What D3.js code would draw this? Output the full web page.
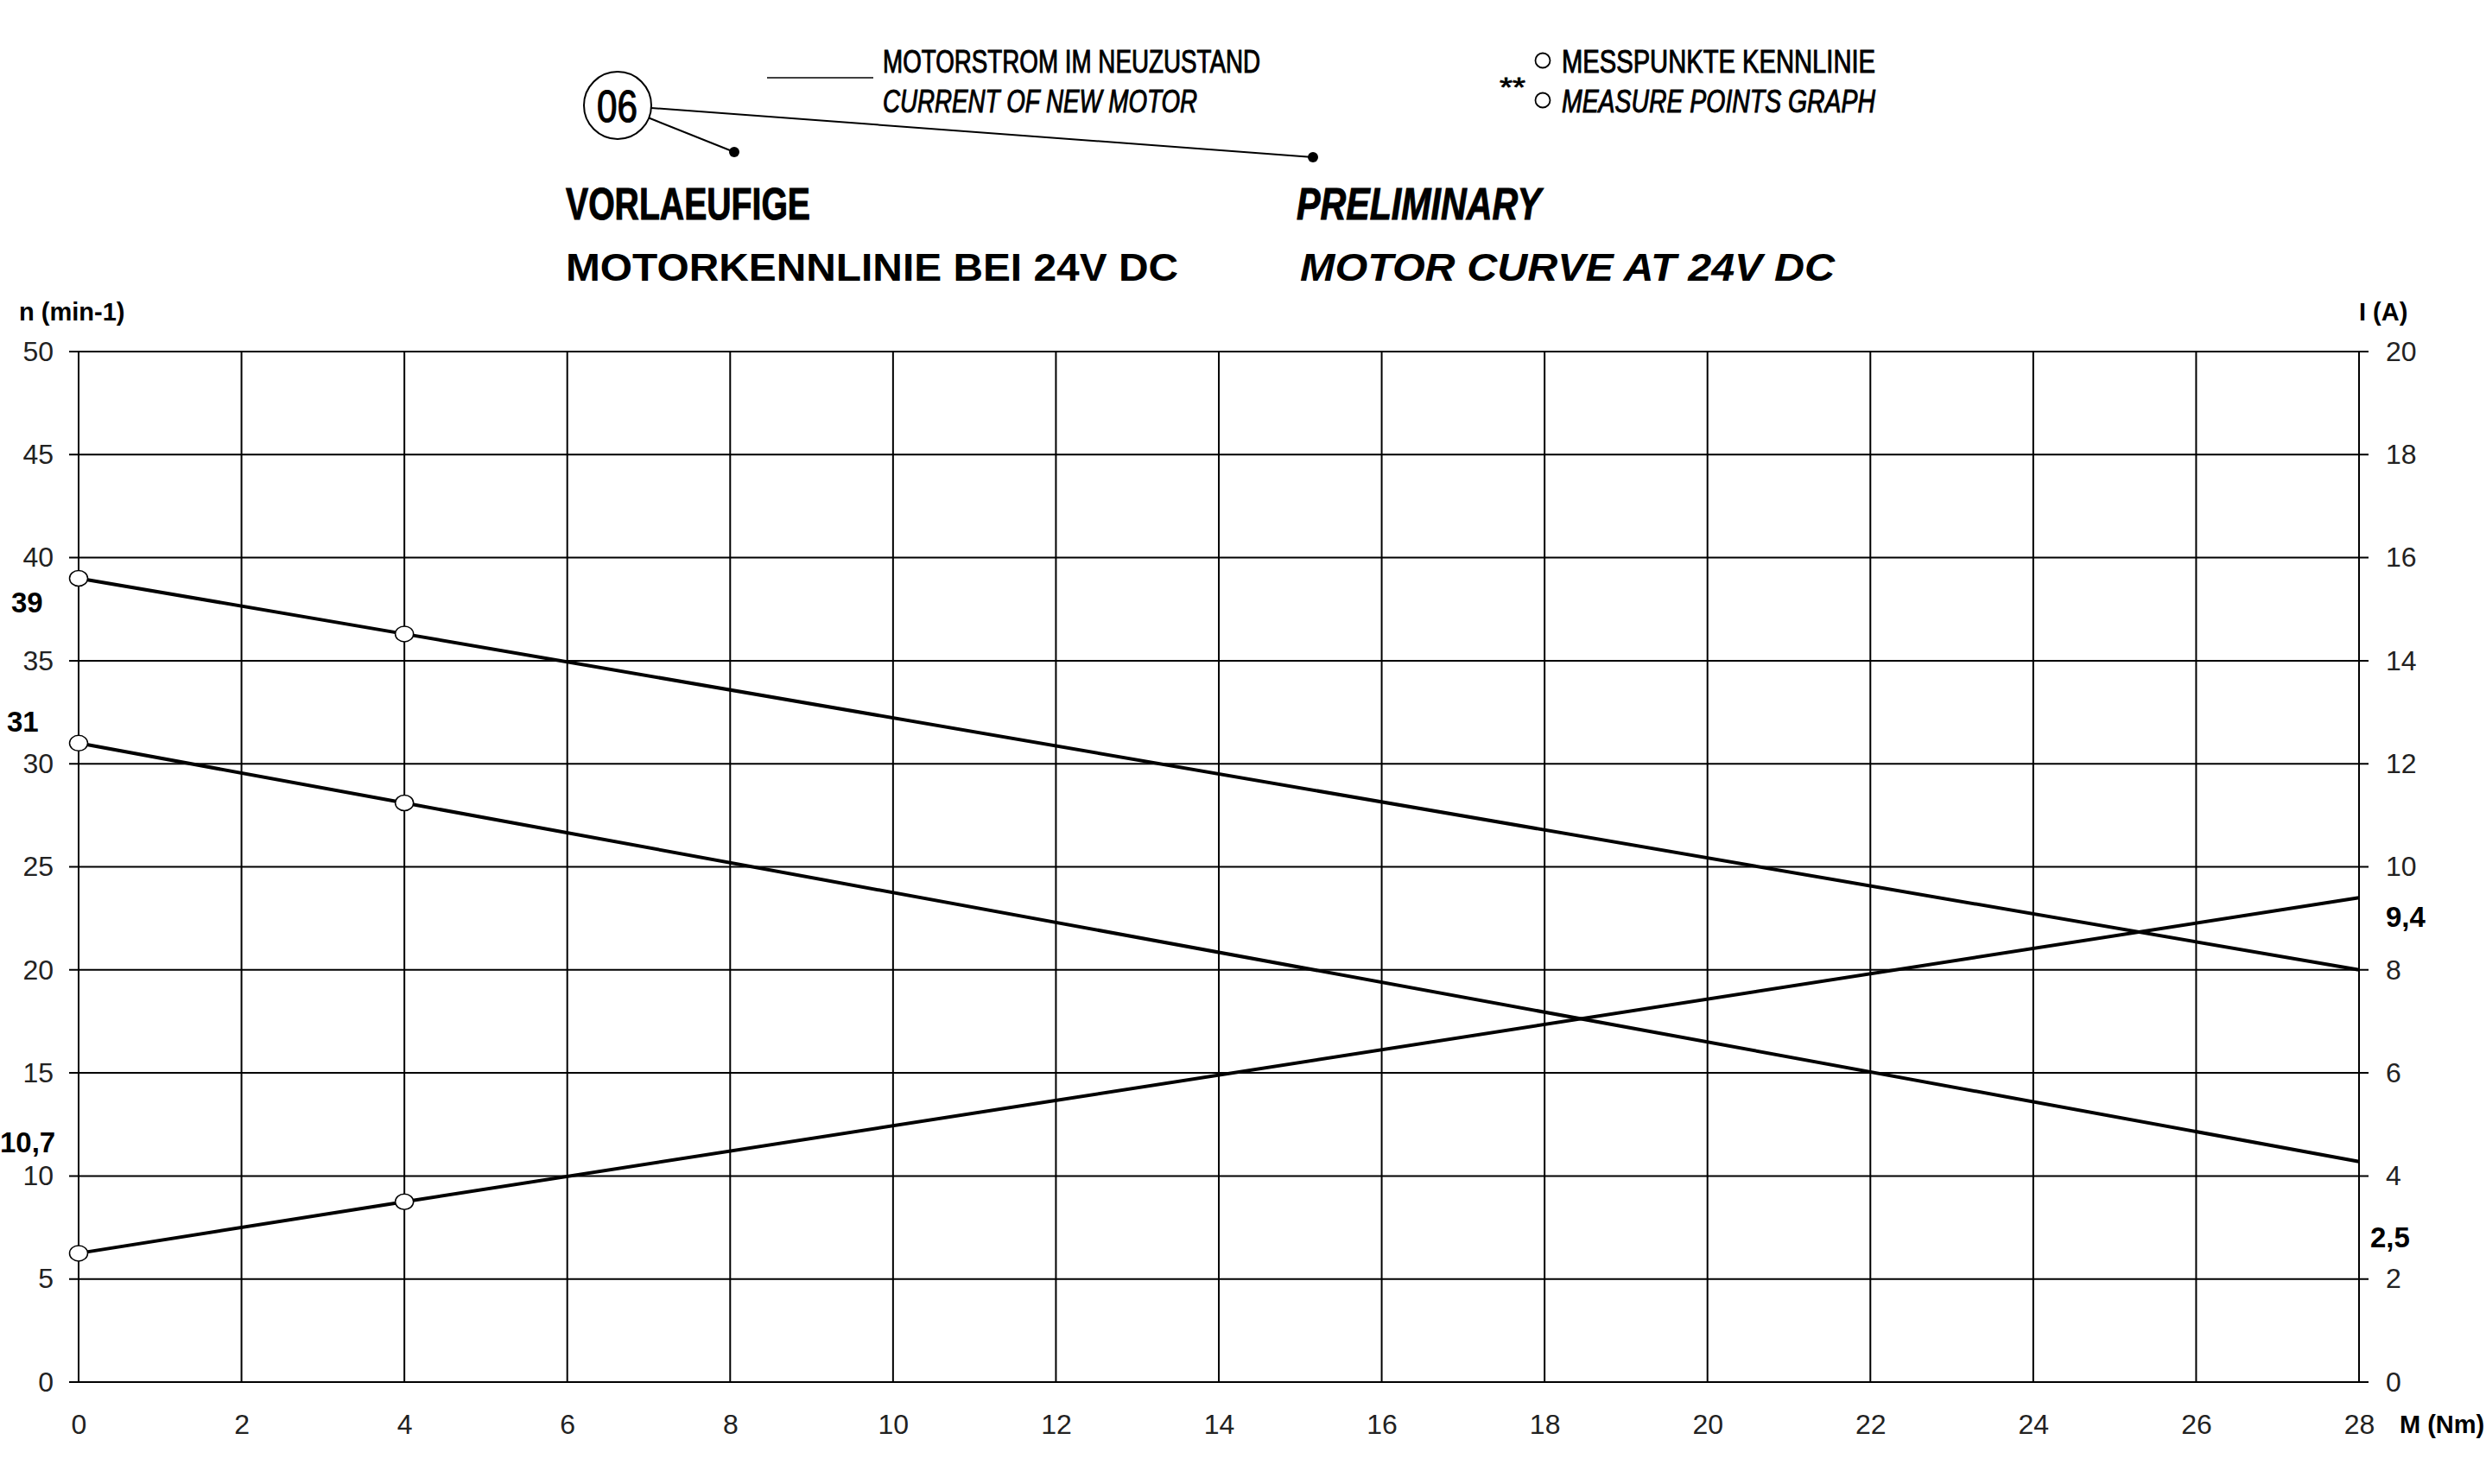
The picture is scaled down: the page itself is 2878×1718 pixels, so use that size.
<!DOCTYPE html>
<html>
<head>
<meta charset="utf-8">
<script src="https://cdn.jsdelivr.net/npm/d3@7/dist/d3.min.js"></script>
<style>
  html, body { margin: 0; padding: 0; background: #fff; }
  svg { display: block; }
</style>
</head>
<body>
<script>
// ---------- DATA ----------
const xTicks = [0, 2, 4, 6, 8, 10, 12, 14, 16, 18, 20, 22, 24, 26, 28];
const leftTicks = [0, 5, 10, 15, 20, 25, 30, 35, 40, 45, 50];
const rightTicks = [0, 2, 4, 6, 8, 10, 12, 14, 16, 18, 20];

const torque = [0, 4, 28];               // M (Nm)
const speedUpper = [39, 36.3, 20];       // n (min-1), left axis
const speedLower = [31, 28.1, 10.7];     // n (min-1), left axis
const currentNew = [2.5, 3.5, 9.4];      // I (A), right axis
const measuredCount = 2;                 // measure points at M = 0 and M = 4

const leftNotes = ["39", "31", "10,7"];
const leftNoteValues = [39, 31, 10.7];
const rightNotes = ["9,4", "2,5"];
const rightNoteValues = [9.4, 2.5];

const xLabel = "M (Nm)";
const leftLabel = "n (min-1)";
const rightLabel = "I (A)";

(function () {
// ---------- LAYOUT ----------
const W = 2878, H = 1718;
const pLeft = 91, pRight = 2731, pTop = 407, pBottom = 1600;

const svg = d3.select("body").append("svg").attr("width", W).attr("height", H)
  .style("font-family", "'Liberation Sans', Arial, sans-serif");

const x = d3.scaleLinear().domain([0, 28]).range([pLeft, pRight]);
const yL = d3.scaleLinear().domain([0, 50]).range([pBottom, pTop]);
const yR = d3.scaleLinear().domain([0, 20]).range([pBottom, pTop]);

// grid
const grid = svg.append("g").attr("stroke", "#000").attr("stroke-width", 2);
grid.selectAll("line.h").data(leftTicks).enter().append("line")
  .attr("x1", pLeft - 11).attr("x2", pRight + 11)
  .attr("y1", d => yL(d)).attr("y2", d => yL(d));
grid.selectAll("line.v").data(xTicks).enter().append("line")
  .attr("x1", d => x(d)).attr("x2", d => x(d))
  .attr("y1", pTop).attr("y2", pBottom);

// axes (labels only)
const tickFont = 32;
const gL = svg.append("g").attr("transform", `translate(${pLeft},0)`)
  .call(d3.axisLeft(yL).tickValues(leftTicks).tickSize(11).tickPadding(18));
const gR = svg.append("g").attr("transform", `translate(${pRight},0)`)
  .call(d3.axisRight(yR).tickValues(rightTicks).tickSize(11).tickPadding(20));
const gB = svg.append("g").attr("transform", `translate(0,${pBottom})`)
  .call(d3.axisBottom(x).tickValues(xTicks).tickSize(0).tickPadding(37));
[gL, gR, gB].forEach(g => {
  g.select(".domain").remove();
  g.selectAll("line").remove();
  g.selectAll("text").attr("font-size", tickFont).attr("fill", "#222")
    .style("font-family", "'Liberation Sans', Arial, sans-serif");
});

// data lines
const pts = arr => torque.map((t, i) => [t, arr[i]]);
const lineL = d3.line().x(d => x(d[0])).y(d => yL(d[1]));
const lineR = d3.line().x(d => x(d[0])).y(d => yR(d[1]));
const lines = svg.append("g").attr("fill", "none").attr("stroke", "#000")
  .attr("stroke-width", 4).attr("stroke-linejoin", "round");
lines.append("path").attr("d", lineL(pts(speedUpper)));
lines.append("path").attr("d", lineL(pts(speedLower)));
lines.append("path").attr("d", lineR(pts(currentNew)));

// measure points
const mk = svg.append("g").attr("fill", "#fff").attr("stroke", "#000").attr("stroke-width", 1.5);
const markerData = [];
for (let i = 0; i < measuredCount; i++) {
  markerData.push([x(torque[i]), yL(speedUpper[i])]);
  markerData.push([x(torque[i]), yL(speedLower[i])]);
  markerData.push([x(torque[i]), yR(currentNew[i])]);
}
mk.selectAll("ellipse").data(markerData).enter().append("ellipse")
  .attr("cx", d => d[0]).attr("cy", d => d[1]).attr("rx", 10.5).attr("ry", 9);

// axis titles
svg.append("text").attr("x", 22).attr("y", 371).attr("font-size", 29).attr("font-weight", "bold").text(leftLabel);
svg.append("text").attr("x", 2731).attr("y", 371).attr("font-size", 29).attr("font-weight", "bold").text(rightLabel);
svg.append("text").attr("x", 2778).attr("y", 1659).attr("font-size", 29).attr("font-weight", "bold").text(xLabel);

// value annotations
const leftNoteX = [13, 8, 0], leftNoteDy = [28, -25, -23];
svg.append("g").selectAll("text").data(leftNotes).enter().append("text")
  .attr("x", (d, i) => leftNoteX[i])
  .attr("y", (d, i) => yL(leftNoteValues[i]) + leftNoteDy[i] + 12)
  .attr("font-size", 33).attr("font-weight", "bold").text(d => d);
const rightNoteX = [2762, 2744], rightNoteDy = [22, -19];
svg.append("g").selectAll("text").data(rightNotes).enter().append("text")
  .attr("x", (d, i) => rightNoteX[i])
  .attr("y", (d, i) => yR(rightNoteValues[i]) + rightNoteDy[i] + 12)
  .attr("font-size", 33).attr("font-weight", "bold").text(d => d);

// ---------- HEADER ----------
const hdr = svg.append("g");
function txt(s, xx, yy, size, len, opts = {}) {
  const t = hdr.append("text").attr("x", xx).attr("y", yy).attr("font-size", size)
    .attr("font-weight", opts.bold ? "bold" : "normal")
    .attr("font-style", opts.italic ? "italic" : "normal")
    .attr("textLength", len).attr("lengthAdjust", "spacingAndGlyphs")
    .text(s);
  if (opts.thick) t.attr("stroke", "#000").attr("stroke-width", opts.thick);
  return t;
}
// balloon 06
const cx0 = 715, cy0 = 122, r0 = 39;
hdr.append("circle").attr("cx", cx0).attr("cy", cy0).attr("r", r0)
  .attr("fill", "none").attr("stroke", "#000").attr("stroke-width", 2);
txt("06", cx0 - 24, cy0 + 19, 52, 47, {thick: 1.2});
const dots = [[850, 176], [1520, 182]];
dots.forEach(([dx, dy]) => {
  const vx = dx - cx0, vy = dy - cy0, n = Math.hypot(vx, vy);
  hdr.append("line").attr("x1", cx0 + vx / n * r0).attr("y1", cy0 + vy / n * r0)
    .attr("x2", dx).attr("y2", dy).attr("stroke", "#000").attr("stroke-width", 2);
  hdr.append("circle").attr("cx", dx).attr("cy", dy).attr("r", 6).attr("fill", "#000");
});
// legend line
hdr.append("line").attr("x1", 888).attr("x2", 1011).attr("y1", 90).attr("y2", 90)
  .attr("stroke", "#000").attr("stroke-width", 1.5);
txt("MOTORSTROM IM NEUZUSTAND", 1022, 84, 36, 437, {thick: 1});
txt("CURRENT OF NEW MOTOR", 1022, 130, 36, 364, {italic: true, thick: 1});
// measure points legend
hdr.append("circle").attr("cx", 1786).attr("cy", 70).attr("r", 8.5).attr("fill", "none").attr("stroke", "#000").attr("stroke-width", 1.8);
hdr.append("circle").attr("cx", 1786).attr("cy", 116).attr("r", 8.5).attr("fill", "none").attr("stroke", "#000").attr("stroke-width", 1.8);
txt("MESSPUNKTE KENNLINIE", 1808, 84, 36, 363, {thick: 1});
txt("MEASURE POINTS GRAPH", 1808, 130, 36, 363, {italic: true, thick: 1});
txt("**", 1736, 112, 32, 30, {thick: 0.8});
// titles
txt("VORLAEUFIGE", 655, 254, 52, 283, {bold: true, thick: 1});
txt("MOTORKENNLINIE BEI 24V DC", 655, 325, 45, 709, {bold: true});
txt("PRELIMINARY", 1501, 254, 52, 283, {bold: true, italic: true, thick: 1});
txt("MOTOR CURVE AT 24V DC", 1505, 325, 45, 619, {bold: true, italic: true});
})();
</script>
</body>
</html>
